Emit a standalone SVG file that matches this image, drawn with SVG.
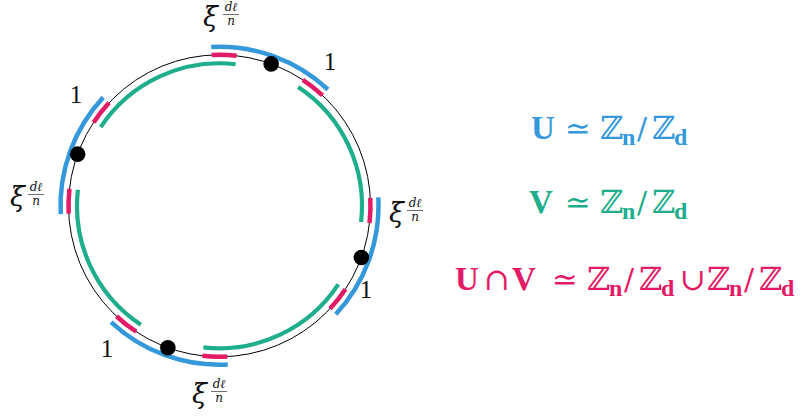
<svg xmlns="http://www.w3.org/2000/svg" width="804" height="417" viewBox="0 0 804 417">
<style>
.bl{fill:none;stroke:#3498db;stroke-width:4.5}
.rd{fill:none;stroke:#e31a65;stroke-width:4.5}
.gr{fill:none;stroke:#1fae8c;stroke-width:4.2}
.dot{fill:#000}
.xi{font-family:"DejaVu Serif","Liberation Serif",serif;font-style:italic;font-size:27px;fill:#111}
.fr{font-family:"DejaVu Serif","Liberation Serif",serif;font-style:italic;font-size:12px;fill:#111;text-anchor:middle}
.one{font-family:"Liberation Serif","DejaVu Serif",serif;font-size:25px;fill:#111;text-anchor:middle}
.b{font-family:"Liberation Serif","DejaVu Serif",serif;font-weight:bold;font-size:33px}
.s{font-family:"Liberation Serif","DejaVu Serif",serif;font-weight:bold;font-size:24px}
.m{font-family:"DejaVu Serif","DejaVu Sans",serif;font-size:31px}
.z{font-family:"DejaVu Serif","DejaVu Sans",serif;font-size:32px}
.sl{font-family:"DejaVu Serif","Liberation Serif",serif;font-size:30px}
.cb{fill:#3498db}.cg{fill:#1fae8c}.cr{fill:#e31a65}
</style>
<g id="circle">
<circle cx="219.5" cy="205.8" r="151" fill="none" stroke="#000" stroke-width="1"/>
</g>
<g id="connectors">
<path class="gr" d="M235.63 64.22A142.5 142.5 0 0 0 100.67 127.15"/>
<path class="gr" d="M77.92 189.67A142.5 142.5 0 0 0 140.85 324.63"/>
<path class="gr" d="M203.37 347.38A142.5 142.5 0 0 0 338.33 284.45"/>
<path class="gr" d="M361.08 221.93A142.5 142.5 0 0 0 298.15 86.97"/>
<path class="bl" d="M327.94 89.52A159 159 0 0 0 211.18 47.02"/>
<path class="bl" d="M103.22 97.36A159 159 0 0 0 60.72 214.12"/>
<path class="bl" d="M111.06 322.08A159 159 0 0 0 227.82 364.58"/>
<path class="bl" d="M335.78 314.24A159 159 0 0 0 378.28 197.48"/>
<path class="rd" d="M322.48 95.37A151 151 0 0 0 302.84 79.88"/>
<path class="rd" d="M236.59 55.77A151 151 0 0 0 211.6 55.01"/>
<path class="rd" d="M109.07 102.82A151 151 0 0 0 93.58 122.46"/>
<path class="rd" d="M69.47 188.71A151 151 0 0 0 68.71 213.7"/>
<path class="rd" d="M116.52 316.23A151 151 0 0 0 136.16 331.72"/>
<path class="rd" d="M202.41 355.83A151 151 0 0 0 227.4 356.59"/>
<path class="rd" d="M329.93 308.78A151 151 0 0 0 345.42 289.14"/>
<path class="rd" d="M369.53 222.89A151 151 0 0 0 370.29 197.9"/>
</g>
<g id="dot-top"><circle class="dot" cx="271.15" cy="63.91" r="7.8"/></g>
<g id="dot-left"><circle class="dot" cx="77.61" cy="154.15" r="7.8"/></g>
<g id="dot-bottom"><circle class="dot" cx="167.85" cy="347.69" r="7.8"/></g>
<g id="dot-right"><circle class="dot" cx="361.39" cy="257.45" r="7.8"/></g>
<g id="label-xi-top" transform="translate(203,26)">
<text class="xi" x="0" y="0">ξ</text><text class="fr" x="28" y="-15.5">dℓ</text>
<line x1="20" y1="-11.5" x2="36" y2="-11.5" stroke="#111" stroke-width="0.6"/><text class="fr" x="28" y="-1.5">n</text>
</g>
<g id="label-xi-left" transform="translate(10,206)">
<text class="xi" x="0" y="0">ξ</text><text class="fr" x="26" y="-15.5">dℓ</text>
<line x1="18" y1="-11.5" x2="34" y2="-11.5" stroke="#111" stroke-width="0.6"/><text class="fr" x="26" y="-1.5">n</text>
</g>
<g id="label-xi-right" transform="translate(389,222)">
<text class="xi" x="0" y="0">ξ</text><text class="fr" x="26" y="-15.5">dℓ</text>
<line x1="18" y1="-11.5" x2="34" y2="-11.5" stroke="#111" stroke-width="0.6"/><text class="fr" x="26" y="-1.5">n</text>
</g>
<g id="label-xi-bottom" transform="translate(192,403)">
<text class="xi" x="0" y="0">ξ</text><text class="fr" x="27" y="-15.5">dℓ</text>
<line x1="19" y1="-11.5" x2="35" y2="-11.5" stroke="#111" stroke-width="0.6"/><text class="fr" x="27" y="-1.5">n</text>
</g>
<g id="label-1-top"><text class="one" x="330" y="70">1</text></g>
<g id="label-1-left"><text class="one" x="76" y="103">1</text></g>
<g id="label-1-right"><text class="one" x="366" y="298">1</text></g>
<g id="label-1-bottom"><text class="one" x="107" y="357">1</text></g>
<g id="eq-U" class="cb">
<text y="139"><tspan class="b" x="531">U</tspan><tspan class="m" x="565">≃</tspan><tspan class="z" x="600">ℤ</tspan><tspan class="s" x="622" y="145">n</tspan><tspan class="sl" x="637" y="139">/</tspan><tspan class="z" x="652">ℤ</tspan><tspan class="s" x="674" y="145">d</tspan></text>
</g>
<g id="eq-V" class="cg">
<text y="213"><tspan class="b" x="529">V</tspan><tspan class="m" x="565">≃</tspan><tspan class="z" x="600">ℤ</tspan><tspan class="s" x="622" y="219">n</tspan><tspan class="sl" x="637" y="213">/</tspan><tspan class="z" x="652">ℤ</tspan><tspan class="s" x="674" y="219">d</tspan></text>
</g>
<g id="eq-UV" class="cr">
<text y="290"><tspan class="b" x="455">U</tspan><tspan class="m" x="484">∩</tspan><tspan class="b" x="512">V</tspan><tspan class="m" x="552">≃</tspan><tspan class="z" x="587">ℤ</tspan><tspan class="s" x="609" y="296">n</tspan><tspan class="sl" x="624" y="290">/</tspan><tspan class="z" x="639">ℤ</tspan><tspan class="s" x="661" y="296">d</tspan><tspan class="m" x="680" y="290">∪</tspan><tspan class="z" x="707">ℤ</tspan><tspan class="s" x="729" y="296">n</tspan><tspan class="sl" x="744" y="290">/</tspan><tspan class="z" x="759">ℤ</tspan><tspan class="s" x="781" y="296">d</tspan></text>
</g>
</svg>
